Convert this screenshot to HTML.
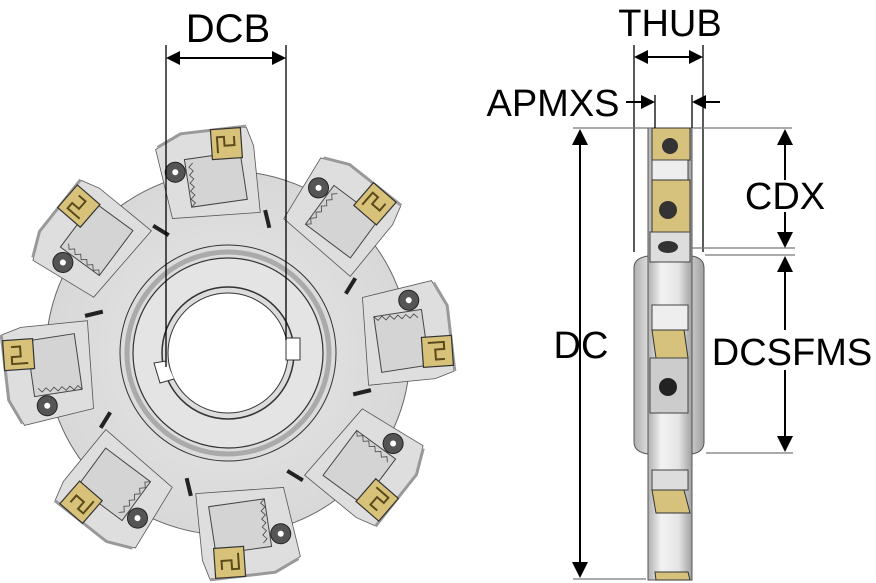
<!DOCTYPE html>
<html><head><meta charset="utf-8"><style>
html,body{margin:0;padding:0;background:#fff;}
svg{display:block;}
text{font-family:"Liberation Sans",sans-serif;fill:#000;}
</style></head><body>
<svg width="876" height="583" viewBox="0 0 876 583" xmlns="http://www.w3.org/2000/svg">
<defs>
<radialGradient id="bg" cx="50%" cy="50%" r="50%">
<stop offset="0" stop-color="#e8e8e8"/><stop offset="1" stop-color="#d8d8d8"/>
</radialGradient>
<linearGradient id="vg" x1="0" x2="1" y1="0" y2="0">
<stop offset="0" stop-color="#b0b0b0"/><stop offset="0.3" stop-color="#f2f2f2"/><stop offset="0.7" stop-color="#e4e4e4"/><stop offset="1" stop-color="#a0a0a0"/>
</linearGradient>
<g id="tooth">
<path d="M138,-46 L208,-58 L222,-32 L224,34 L205,40 L138,42 Z" fill="#dedede" stroke="#555" stroke-width="0.8"/>
<path d="M210,-56 L222,-32 L225,34" fill="none" stroke="#999" stroke-width="3"/>
<path d="M148,-26 L196,-30 L200,26 L152,30 Z" fill="#d4d4d4" stroke="#444" stroke-width="1"/>
<path d="M148,-26 l4,4 l4,-4 l4,4 l4,-4 l4,4 l4,-4 l4,4 l4,-4 l4,4 l4,-4 l4,4" fill="none" stroke="#444" stroke-width="0.8"/>
<rect x="194" y="-2" width="30" height="30" fill="#d8c27a" stroke="#333" stroke-width="1.2"/>
<path d="M200,4 h16 v7 h-9 v10 h9" fill="none" stroke="#5a4a1a" stroke-width="2"/>
<circle cx="184" cy="-40" r="10" fill="#555" stroke="#222"/>
<circle cx="184" cy="-40" r="3" fill="#fff"/>
<path d="M122,50 L140,47" stroke="#222" stroke-width="4"/>
</g>
</defs>

<g transform="translate(228,353)">
<circle r="182" fill="url(#bg)" stroke="#666" stroke-width="1"/>
<use href="#tooth" transform="rotate(-4)"/>
<use href="#tooth" transform="rotate(41)"/>
<use href="#tooth" transform="rotate(86)"/>
<use href="#tooth" transform="rotate(131)"/>
<use href="#tooth" transform="rotate(176)"/>
<use href="#tooth" transform="rotate(221)"/>
<use href="#tooth" transform="rotate(266)"/>
<use href="#tooth" transform="rotate(311)"/>
<circle r="108" fill="#dcdcdc" stroke="#333" stroke-width="1"/>
<circle r="101" fill="none" stroke="#aaa" stroke-width="5"/>
<circle r="95" fill="#e4e4e4" stroke="#333" stroke-width="1.2"/>
<circle r="66" fill="#dcdcdc" stroke="#333" stroke-width="1.5"/>
<circle r="60" fill="#fff" stroke="#333" stroke-width="1"/>
<rect x="58" y="-15" width="14" height="22" fill="#fff" stroke="#333"/>
<path d="M-62,8 L-74,10 L-68,30 L-54,26" fill="#fff" stroke="#333"/>
</g>

<g stroke="#000" stroke-width="1.3">
<line x1="166" y1="45" x2="166" y2="367"/>
<line x1="286" y1="45" x2="286" y2="340"/>
<line x1="176" y1="58" x2="276" y2="58" stroke-width="2"/>
</g>
<path d="M166,58 l14,-7 v14 z M286,58 l-14,-7 v14 z" fill="#000"/>
<text x="228" y="42" font-size="40" text-anchor="middle">DCB</text>

<path d="M634,268 q0,-10 14,-12 L692,256 q12,2 12,12 L704,442 q0,10 -12,12 L648,454 q-14,-2 -14,-12 Z" fill="url(#vg)" stroke="#555"/>
<rect x="648" y="128" width="44" height="452" fill="url(#vg)" stroke="#555"/>
<rect x="652" y="128" width="38" height="32" fill="#d6c27c" stroke="#333"/>
<circle cx="670" cy="146" r="8" fill="#333"/>
<rect x="652" y="160" width="36" height="20" fill="#eee" stroke="#444"/>
<rect x="652" y="180" width="38" height="52" fill="#d6c27c" stroke="#333"/>
<circle cx="668" cy="210" r="9" fill="#333"/>
<rect x="650" y="232" width="40" height="30" fill="#ddd" stroke="#444"/>
<ellipse cx="668" cy="247" rx="10" ry="6" fill="#333"/>
<rect x="652" y="305" width="36" height="25" fill="#eee" stroke="#444"/>
<path d="M652,330 L684,330 L688,358 L656,358 Z" fill="#d6c27c" stroke="#333"/>
<rect x="650" y="358" width="38" height="55" fill="#ccc" stroke="#444"/>
<circle cx="668" cy="387" r="9" fill="#222"/>
<rect x="652" y="470" width="36" height="20" fill="#ddd" stroke="#444"/>
<path d="M652,490 L684,490 L690,513 L656,513 Z" fill="#d6c27c" stroke="#333"/>
<path d="M655,572 L688,572 L690,580 L656,580 Z" fill="#d6c27c" stroke="#333"/>

<g stroke="#000" stroke-width="1.3">
<line x1="634" y1="45" x2="634" y2="252"/>
<line x1="703" y1="45" x2="703" y2="252"/>
<line x1="645" y1="57" x2="692" y2="57" stroke-width="2"/>
<line x1="655" y1="95" x2="655" y2="128"/>
<line x1="692" y1="95" x2="692" y2="128"/>
<line x1="626" y1="102" x2="645" y2="102" stroke-width="2"/>
<line x1="702" y1="102" x2="720" y2="102" stroke-width="2"/>
<line x1="580" y1="140" x2="580" y2="566" stroke-width="2"/>
<line x1="785" y1="140" x2="785" y2="180" stroke-width="2"/>
<line x1="785" y1="212" x2="785" y2="236" stroke-width="2"/>
<line x1="785" y1="268" x2="785" y2="330" stroke-width="2"/>
<line x1="785" y1="370" x2="785" y2="440" stroke-width="2"/>
</g>
<g stroke="#777" stroke-width="1.3">
<line x1="573" y1="128" x2="652" y2="128"/>
<line x1="693" y1="128" x2="792" y2="128"/>
<line x1="692" y1="248" x2="795" y2="248"/>
<line x1="705" y1="255" x2="795" y2="255"/>
<line x1="706" y1="453" x2="793" y2="453"/>
<line x1="573" y1="579" x2="646" y2="579"/>
</g>
<path d="M634,57 l14,-7 v14 z M703,57 l-14,-7 v14 z
M655,102 l-14,-7 v14 z M692,102 l14,-7 v14 z
M580,129 l-8,16 h16 z M580,578 l-8,-16 h16 z
M785,129 l-8,16 h16 z M785,248 l-8,-16 h16 z
M785,256 l-8,16 h16 z M785,452 l-8,-16 h16 z" fill="#000"/>
<text x="670" y="36" font-size="38" text-anchor="middle">THUB</text>
<text x="553" y="116" font-size="38" text-anchor="middle">APMXS</text>
<text x="581" y="358" font-size="38" text-anchor="middle">DC</text>
<text x="785" y="209" font-size="38" text-anchor="middle">CDX</text>
<text x="792" y="365" font-size="38" text-anchor="middle">DCSFMS</text>
</svg>
</body></html>
